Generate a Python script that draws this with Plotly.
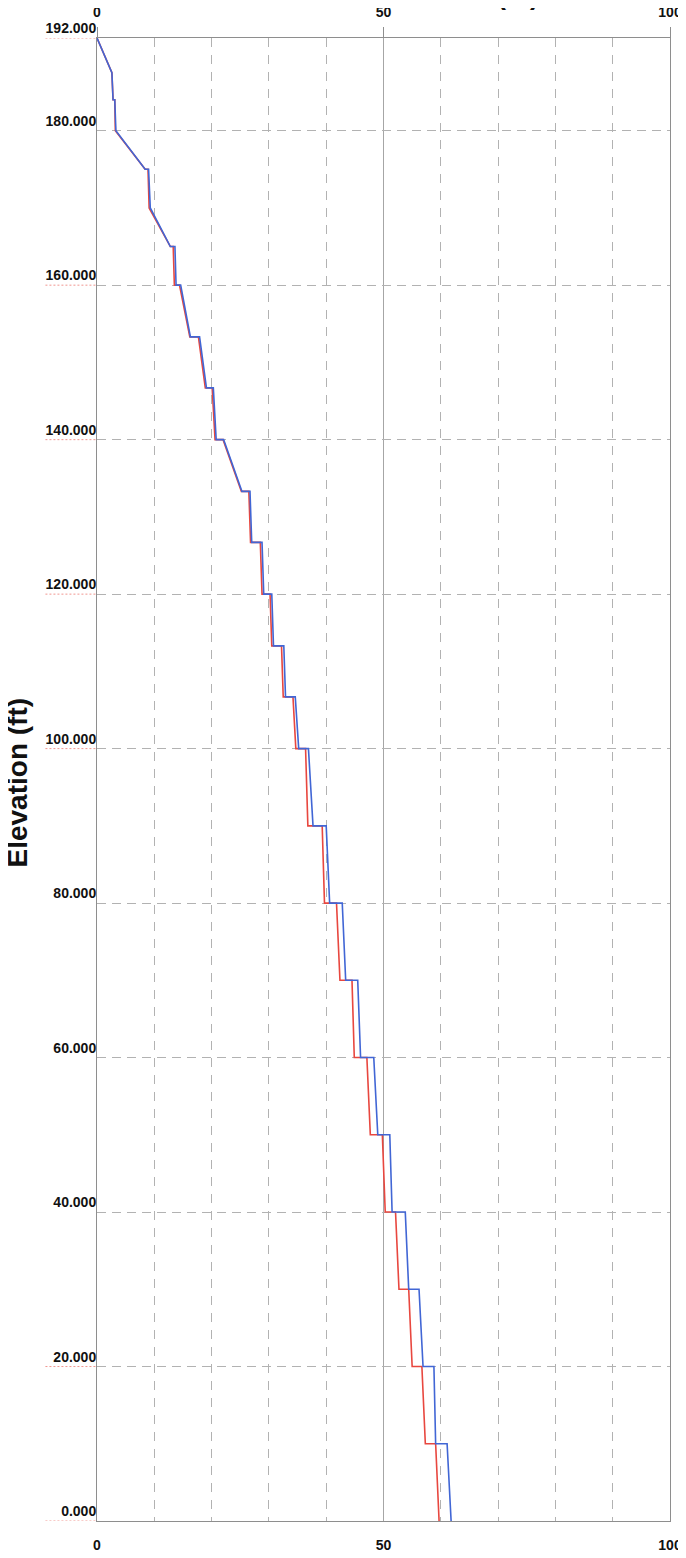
import plotly.graph_objects as go

# ---- data ----
blue_disp = [0, 2.6, 2.8, 3.1, 3.3, 8.4, 9.0, 9.3, 12.8, 13.6, 13.8, 14.6, 16.3, 17.9,
             19.1, 20.3, 20.8, 22.1, 25.3, 26.7, 27.0, 28.8, 29.1, 30.5, 30.8, 32.6,
             32.9, 34.6, 35.2, 36.9, 37.7, 40.0, 40.6, 42.8, 43.4, 45.5, 46.0, 48.3,
             49.0, 51.1, 51.5, 53.8, 54.4, 56.2, 56.9, 58.8, 59.1, 61.1, 61.8]
blue_elev = [192, 187.5, 184, 184, 180, 175, 175, 170, 165, 165, 160, 160, 153.3, 153.3,
             146.7, 146.7, 140, 140, 133.3, 133.3, 126.7, 126.7, 120, 120, 113.3, 113.3,
             106.7, 106.7, 100, 100, 90, 90, 80, 80, 70, 70, 60, 60,
             50, 50, 40, 40, 30, 30, 20, 20, 10, 10, 0]

red_disp = [0, 2.6, 2.8, 3.1, 3.2, 8.4, 8.9, 9.1, 12.8, 13.3, 13.5, 14.4, 16.2, 17.7,
            18.9, 20.1, 20.6, 22.0, 25.2, 26.5, 26.8, 28.5, 28.8, 30.2, 30.5, 32.2,
            32.5, 34.2, 34.7, 36.4, 36.8, 39.3, 39.7, 41.8, 42.4, 44.5, 44.9, 47.1,
            47.7, 49.8, 50.3, 52.1, 52.7, 54.4, 55.0, 56.7, 57.3, 59.1, 59.7]
red_elev = blue_elev

x_tick_vals = [0, 50, 100]
y_tick_vals = [0, 20, 40, 60, 80, 100, 120, 140, 160, 180, 192]
y_tick_text = [f"{v:.3f}" for v in y_tick_vals]
underlined_ticks = [0, 20, 100, 120, 140, 160, 192]

y_title = "Elevation (ft)"
x_title = "Deflection (in)"

FONT = "Liberation Sans, Arial, sans-serif"
GRID = "#b2b2b2"
AXIS = "#8e8e8e"

fig = go.Figure()
fig.add_trace(go.Scatter(x=red_disp, y=red_elev, mode="lines",
                         line=dict(color="#e8473f", width=1.6), showlegend=False,
                         hoverinfo="skip"))
fig.add_trace(go.Scatter(x=blue_disp, y=blue_elev, mode="lines",
                         line=dict(color="#4166d5", width=1.6), showlegend=False,
                         hoverinfo="skip"))
fig.add_trace(go.Scatter(x=[None], y=[None], xaxis="x2", yaxis="y",
                         showlegend=False, hoverinfo="skip"))

tickfont = dict(family=FONT, size=14, color="#111", weight="bold")

# the page body adds an 8 px margin, so the figure is sized to fit inside it
fig.update_layout(
    width=678, height=1550,
    margin=dict(l=89, r=16, t=30, b=37, autoexpand=False),
    paper_bgcolor="white", plot_bgcolor="white",
    showlegend=False,
    xaxis=dict(range=[0, 100], tickvals=x_tick_vals, showgrid=True,
               gridcolor="#a6a6a6", gridwidth=1, automargin=False,
               minor=dict(dtick=10, tick0=0, showgrid=True, gridcolor=GRID,
                          griddash="9px,8px", gridwidth=1, ticks=""),
               showline=True, linecolor=AXIS, linewidth=1, mirror=True,
               ticks="", zeroline=False, tickfont=tickfont,
               ticklabelstandoff=11),
    xaxis2=dict(range=[0, 100], overlaying="x", side="top", tickvals=x_tick_vals,
                showgrid=False, ticks="outside", ticklen=10, tickcolor=AXIS,
                zeroline=False, showline=False, tickfont=tickfont, automargin=False,
                ticklabelstandoff=4),
    yaxis=dict(range=[0, 192], tickvals=y_tick_vals, ticktext=y_tick_text,
               ticklabelposition="outside top", showgrid=True, automargin=False,
               griddash="9px,6px", gridcolor=GRID, gridwidth=1,
               showline=True, mirror=True, linecolor=AXIS, linewidth=1,
               zeroline=False, ticks="", tickfont=tickfont,
               ticklabelstandoff=-3),
)

for v in underlined_ticks:
    fig.add_shape(type="line", xref="paper", yref="y", x0=-0.09, x1=0, y0=v, y1=v,
                  line=dict(color="rgba(232,80,70,0.6)", width=1, dash="2px,2px"),
                  layer="below")

fig.add_annotation(text=y_title, xref="paper", yref="paper", x=-0.1396, y=0.498,
                   xanchor="center", yanchor="middle", textangle=-90, showarrow=False,
                   font=dict(family=FONT, size=28, color="#111", weight="bold"))

fig.add_annotation(text=x_title, xref="paper", yref="paper", x=0.775, y=1,
                   xanchor="right", yanchor="bottom", yshift=26, showarrow=False,
                   font=dict(family=FONT, size=27, color="#111", weight="bold"))

fig.write_html("out.html")
